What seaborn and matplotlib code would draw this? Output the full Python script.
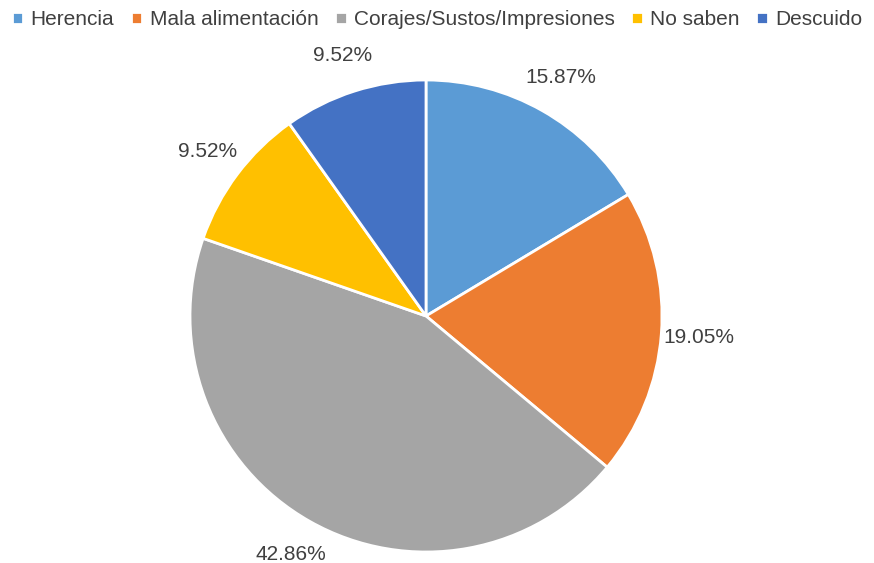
import matplotlib
matplotlib.use('Agg')
import matplotlib.pyplot as plt
import seaborn as sns

# datos
categorias = ['Herencia', 'Mala alimentación', 'Corajes/Sustos/Impresiones', 'No saben', 'Descuido']
porcentajes = [15.87, 19.05, 42.86, 9.52, 9.52]
colores = ['#5B9BD5', '#ED7D31', '#A5A5A5', '#FFC000', '#4472C4']

sns.set_theme(style='white')
plt.rcParams['font.family'] = ['Liberation Sans Narrow', 'Liberation Sans', 'DejaVu Sans']

fig = plt.figure(figsize=(8.74, 5.63), dpi=100)
ax = fig.add_axes([0, 0, 1, 1])

# etiquetas con los porcentajes originales
etiquetas = iter([f'{p:.2f}%' for p in porcentajes])

wedges, texts, autotexts = ax.pie(
    porcentajes, colors=colores, startangle=90, counterclock=False,
    autopct=lambda pct: next(etiquetas), pctdistance=1.16, radius=1,
    wedgeprops={'edgecolor': 'white', 'linewidth': 2},
    textprops={'color': '#404040', 'fontsize': 15})

ax.set_aspect('equal')
ax.set_xlim(-426 / 236, 448 / 236)
ax.set_ylim(-247 / 236, 316 / 236)
ax.axis('off')

fig.legend(wedges, categorias, loc='upper center', bbox_to_anchor=(0.5, 1.015),
           ncol=5, frameon=False, fontsize=15, handlelength=0.55, handleheight=0.55,
           handletextpad=0.35, columnspacing=0.8, labelcolor='#404040')

fig.savefig('out.png', dpi=100)
